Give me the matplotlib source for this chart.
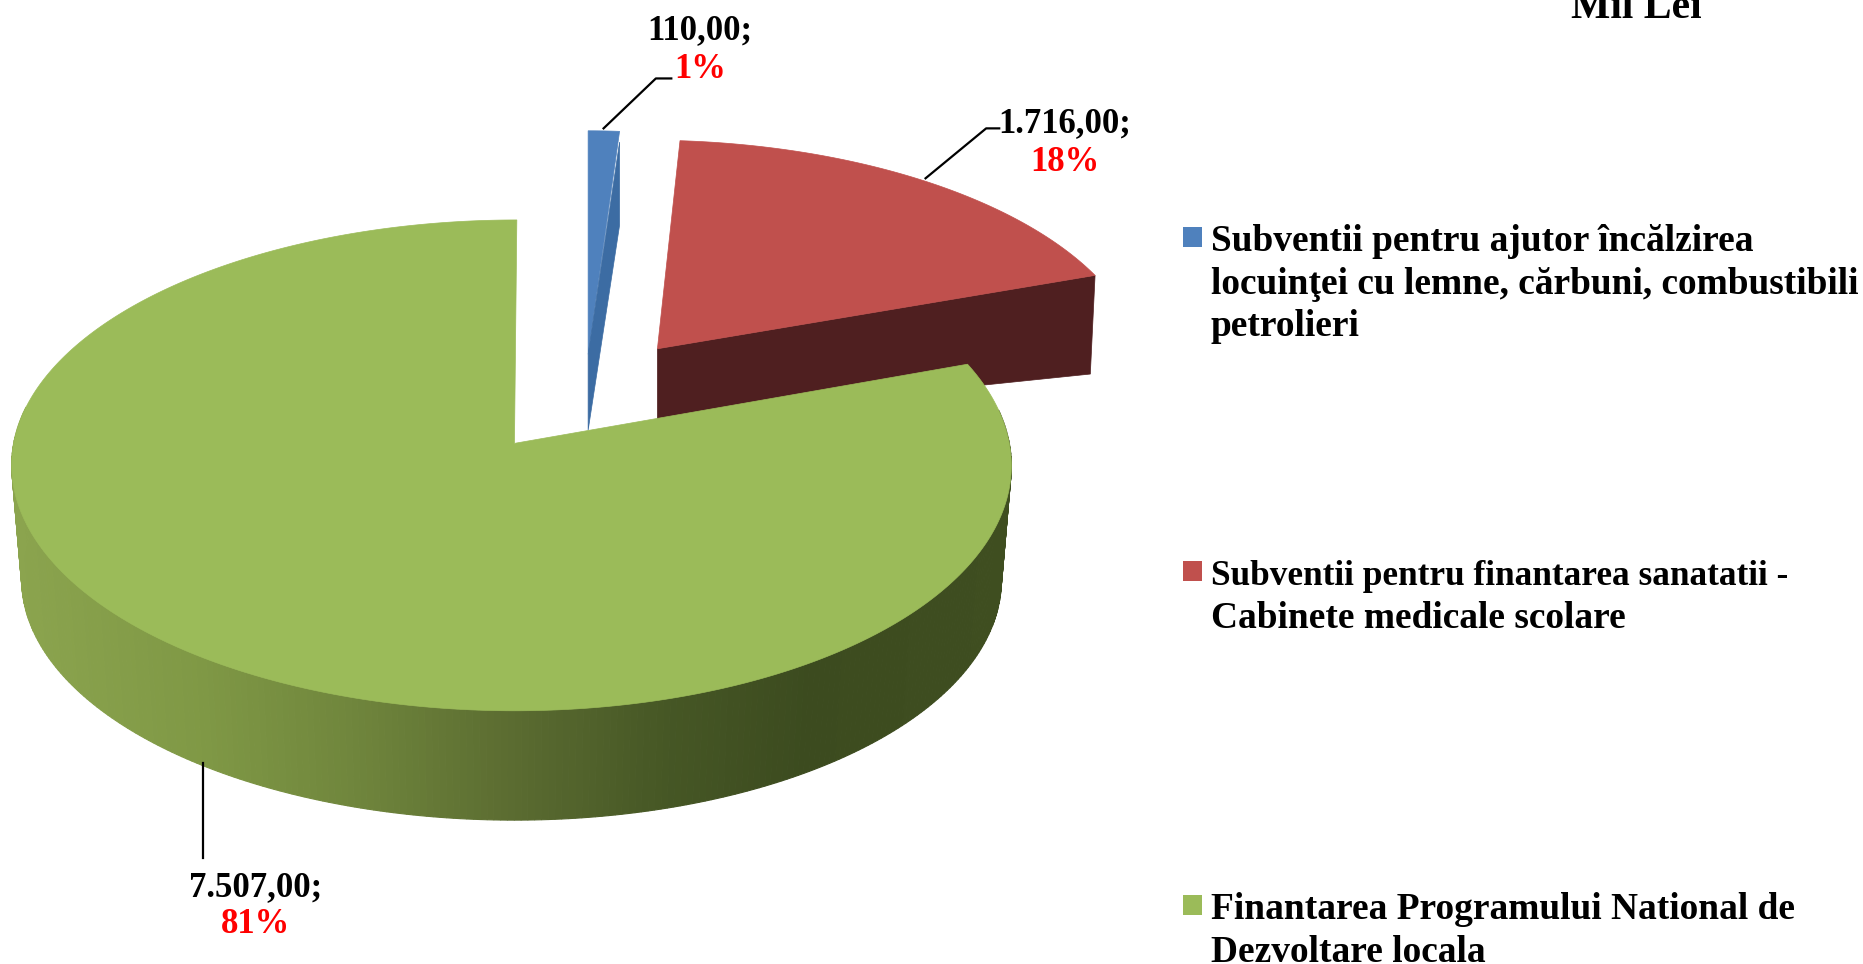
import numpy as np
import matplotlib
matplotlib.use("Agg")
import matplotlib.pyplot as plt
from matplotlib.colors import to_rgb
from matplotlib.patches import Polygon, Rectangle

categories = [
    "Subventii pentru ajutor încălzirea\nlocuinţei cu lemne, cărbuni, combustibili\npetrolieri",
    "Subventii pentru finantarea sanatatii -\nCabinete medicale scolare",
    "Finantarea Programului National de\nDezvoltare locala",
]
values = [110.0, 1716.0, 7507.0]
value_labels = ["110,00;", "1.716,00;", "7.507,00;"]
percent_labels = ["1%", "18%", "81%"]
unit_label = "Mil Lei"

FONT = "Liberation Serif"
face_colors = ["#4f81bd", "#c0504d", "#9bbb59"]
wall_colors = ["#3c6ca3", "#4f1f20", "#5a6b30"]

fig = plt.figure(figsize=(18.63, 9.64), dpi=100)
ax = fig.add_axes([0, 0, 1, 1])
ax.set_xlim(0, 1568)
ax.set_ylim(811, 0)
ax.axis("off")

# perspective pie plane -> picture
CX, CY, A, B, K = 433.0, 373.0, 419.0, 204.8, 0.0896


def project(x, y, scale=1.0, dy=0.0):
    w = 1 + K * y
    return CX + scale * A * x / w, CY + dy - scale * B * y / w


fractions = np.array(values) / sum(values)
edges = np.concatenate([[0], np.cumsum(fractions)])
start = np.pi / 2 - 2 * np.pi * edges[:-1]
stop = np.pi / 2 - 2 * np.pi * edges[1:]


def arc(i, n=240):
    return np.linspace(start[i], stop[i], n)


# --- red slice (exploded in the pie plane)
EXPLODE_RED = 0.49
mid = (start[1] + stop[1]) / 2
ox, oy = EXPLODE_RED * np.cos(mid), EXPLODE_RED * np.sin(mid)
t = arc(1)
rx, ry = project(ox + np.cos(t), oy + np.sin(t))
ax_, ay_ = project(ox, oy)
rx, ry, ax_, ay_ = rx + 1, ry - 2, ax_ + 0, ay_ - 2.5
ax.add_patch(Polygon(
    [(ax_, ay_), (rx[-1], ry[-1]), (rx[-1] - 4, ry[-1] + 83), (ax_, ay_ + 59)],
    closed=True, fc=wall_colors[1], ec=wall_colors[1], lw=0.5, zorder=2))
ax.add_patch(Polygon(
    np.column_stack([np.r_[ax_, rx], np.r_[ay_, ry]]),
    closed=True, fc=face_colors[1], ec=face_colors[1], lw=0.5, zorder=3))

# --- blue slice (shifted as a whole)
BLUE_DX, BLUE_DY = 62.0, -75.0
t = arc(0, 30)
bx, by = project(np.cos(t), np.sin(t))
bx, by = bx + BLUE_DX, by + BLUE_DY
apx, apy = project(0, 0)
apx, apy = apx + BLUE_DX, apy + BLUE_DY
bx = apx + 0.93 * (bx - bx[0])
ax.add_patch(Polygon(
    np.column_stack([np.r_[apx, bx], np.r_[apy, by]]),
    closed=True, fc=face_colors[0], ec=face_colors[0], lw=0.5, zorder=3))
ax.add_patch(Polygon(
    [(apx, apy), (bx[-1], by[-1] + 9), (bx[-1], by[-1] + 79), (apx, apy + 64)],
    closed=True, fc=wall_colors[0], ec=wall_colors[0], lw=0.5, zorder=4))

# --- green slice: shaded rim wall, then top face
shade_x = [10, 170, 300, 430, 560, 680, 851]
shade_c = ["#8ba44e", "#7f9845", "#6f853c", "#5b6c31", "#465725", "#3c4b1f", "#3f4e20"]
shade_rgb = np.array([to_rgb(c) for c in shade_c])
t = arc(2, 400)
DEPTH, BSCALE = 96.5, 0.98
tx, ty = project(np.cos(t), np.sin(t))
ux, uy = project(np.cos(t), np.sin(t), scale=BSCALE, dy=DEPTH)
bend = -2.5 * np.cos(t) ** 2 + 2.0 * np.clip(np.sin(t), 0, None) ** 2
tx, ux = tx + bend, ux + bend
for j in range(len(t) - 1):
    if np.sin(t[j]) > 0.15:
        continue
    xm = (tx[j] + tx[j + 1]) / 2
    col = [np.interp(xm, shade_x, shade_rgb[:, c]) for c in range(3)]
    ax.add_patch(Polygon(
        [(tx[j], ty[j]), (tx[j + 1], ty[j + 1]), (ux[j + 1], uy[j + 1]), (ux[j], uy[j])],
        closed=True, fc=col, ec=col, lw=0.8, zorder=5))
ax0, ay0 = project(0, 0)
ax.add_patch(Polygon(
    np.column_stack([np.r_[ax0, tx], np.r_[ay0, ty]]),
    closed=True, fc=face_colors[2], ec=face_colors[2], lw=0.5, zorder=6))

# --- leader lines
LW = 1.6
ax.plot([508, 552, 565], [108, 66, 66], color="black", lw=LW, zorder=7)
ax.plot([779, 830, 841], [150, 108, 108], color="black", lw=LW, zorder=7)
ax.plot([171, 171], [642, 722], color="black", lw=LW, zorder=7)

# --- data labels
TXT = dict(family=FONT, weight="bold", fontsize=25, ha="center", va="baseline", zorder=8)
label_pos = [(589, 33), (896, 111), (215, 754)]
pct_pos = [(589, 66), (896, 144), (215, 785)]
for lab, pct, p, q in zip(value_labels, percent_labels, label_pos, pct_pos):
    ax.text(p[0], p[1], lab, color="black", **TXT)
    ax.text(q[0], q[1], pct, color="#ff0000", **TXT)

ax.text(1377, 15, unit_label, color="black", family=FONT, weight="bold", fontsize=30,
        ha="center", va="baseline", zorder=8)

# --- legend
legend_base = [211, 492, 773]
LEG = 36.0
for name, col, y0 in zip(categories, face_colors, legend_base):
    ax.add_patch(Rectangle((996, y0 - 20), 16, 17, fc=col, ec="none", zorder=8))
    for k, line in enumerate(name.split("\n")):
        size = 25.4 if line.startswith("Subventii pentru fin") else 26.9
        ax.text(1019, y0 + k * LEG, line, family=FONT, weight="bold", fontsize=size,
                ha="left", va="baseline", color="black", zorder=8)

fig.savefig("out.png", dpi=100, facecolor="white")
